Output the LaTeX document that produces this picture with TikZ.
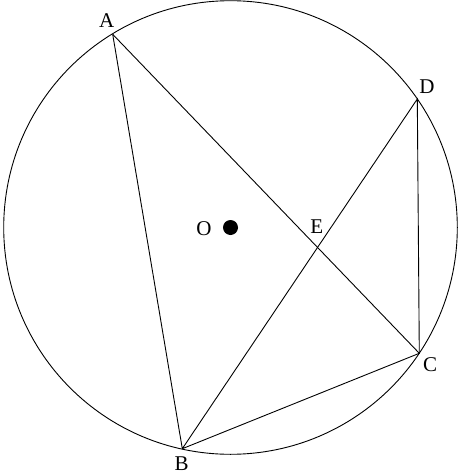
\documentclass[tikz,border=0pt]{standalone}
\usepackage{fontspec}
\setmainfont{Liberation Serif}
\usepackage{tikz}

\begin{document}
\begin{tikzpicture}[x=1pt, y=-1pt, line width=0.9pt,
		lbl/.style={font=\fontsize{21}{25}\selectfont, inner sep=0pt}]
		\useasboundingbox (0,0) rectangle (462,474);
		\coordinate (O) at (230.5,227.5);
		\coordinate (A) at (112.7,34.3);
		\coordinate (B) at (182.3,448.7);
		\coordinate (C) at (419.3,353.3);
		\coordinate (D) at (417.3,99);
		\coordinate (E) at (intersection of A--C and B--D);
		
		\draw (O) circle (226.8);
		\fill (O) circle (7.5);
		
		\draw (A) -- (B) -- (C) -- (D) -- (B);
		\draw (A) -- (C);
		
		\node (labA) [lbl] at (106.7,20.7) {A};
		\node (labB) [lbl] at (181.7,464) {B};
		\node (labC) [lbl] at (430,365) {C};
		\node (labD) [lbl] at (427,87) {D};
		\node (labE) [lbl] at (316.7,226.7) {E};
		\node (labO) [lbl] at (204,229) {O};
	\end{tikzpicture}
\end{document}
